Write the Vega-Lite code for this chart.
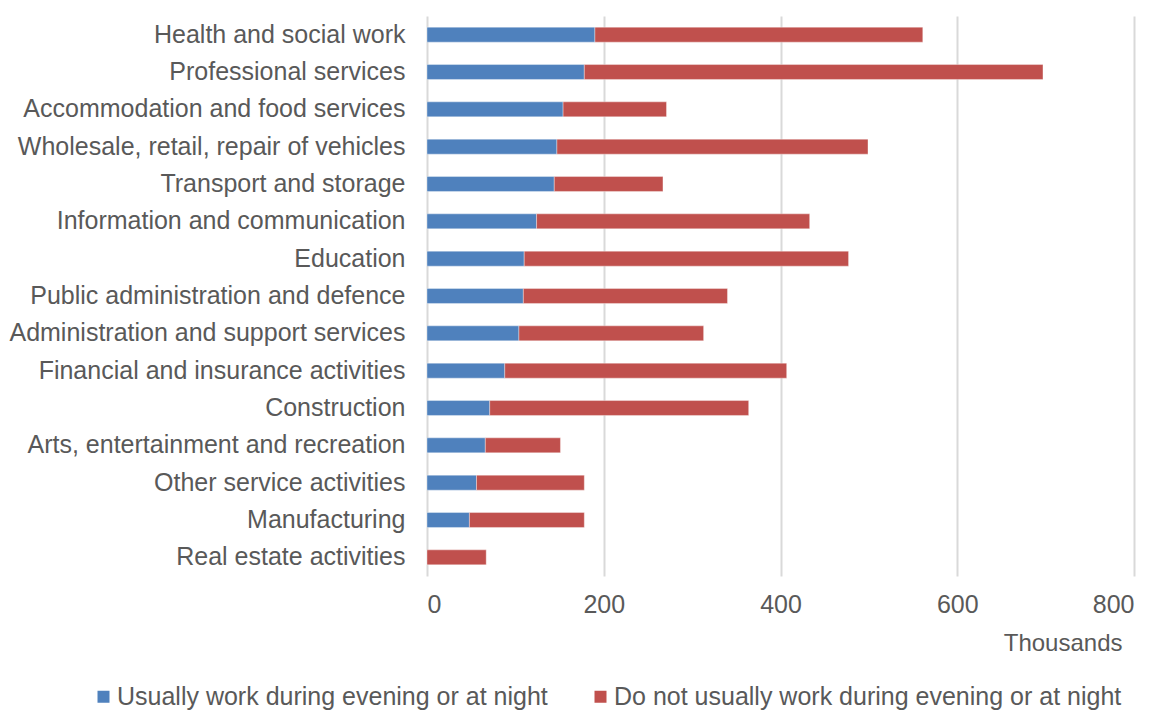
{
  "$schema": "https://vega.github.io/schema/vega-lite/v6.json",
  "width": 707,
  "height": 560,
  "autosize": {"type": "none"},
  "padding": {"left": 427, "top": 16, "right": 20, "bottom": 137},
  "background": "white",
  "data": {
    "values": [
      {"industry": "Health and social work", "series": "Usually work during evening or at night", "o": 1, "value": 190},
      {"industry": "Health and social work", "series": "Do not usually work during evening or at night", "o": 2, "value": 371},
      {"industry": "Professional services", "series": "Usually work during evening or at night", "o": 1, "value": 178},
      {"industry": "Professional services", "series": "Do not usually work during evening or at night", "o": 2, "value": 519},
      {"industry": "Accommodation and food services", "series": "Usually work during evening or at night", "o": 1, "value": 154},
      {"industry": "Accommodation and food services", "series": "Do not usually work during evening or at night", "o": 2, "value": 117},
      {"industry": "Wholesale, retail, repair of vehicles", "series": "Usually work during evening or at night", "o": 1, "value": 147},
      {"industry": "Wholesale, retail, repair of vehicles", "series": "Do not usually work during evening or at night", "o": 2, "value": 352},
      {"industry": "Transport and storage", "series": "Usually work during evening or at night", "o": 1, "value": 144},
      {"industry": "Transport and storage", "series": "Do not usually work during evening or at night", "o": 2, "value": 123},
      {"industry": "Information and communication", "series": "Usually work during evening or at night", "o": 1, "value": 124},
      {"industry": "Information and communication", "series": "Do not usually work during evening or at night", "o": 2, "value": 309},
      {"industry": "Education", "series": "Usually work during evening or at night", "o": 1, "value": 110},
      {"industry": "Education", "series": "Do not usually work during evening or at night", "o": 2, "value": 367},
      {"industry": "Public administration and defence", "series": "Usually work during evening or at night", "o": 1, "value": 109},
      {"industry": "Public administration and defence", "series": "Do not usually work during evening or at night", "o": 2, "value": 231},
      {"industry": "Administration and support services", "series": "Usually work during evening or at night", "o": 1, "value": 104},
      {"industry": "Administration and support services", "series": "Do not usually work during evening or at night", "o": 2, "value": 209},
      {"industry": "Financial and insurance activities", "series": "Usually work during evening or at night", "o": 1, "value": 88},
      {"industry": "Financial and insurance activities", "series": "Do not usually work during evening or at night", "o": 2, "value": 319},
      {"industry": "Construction", "series": "Usually work during evening or at night", "o": 1, "value": 71},
      {"industry": "Construction", "series": "Do not usually work during evening or at night", "o": 2, "value": 293},
      {"industry": "Arts, entertainment and recreation", "series": "Usually work during evening or at night", "o": 1, "value": 66},
      {"industry": "Arts, entertainment and recreation", "series": "Do not usually work during evening or at night", "o": 2, "value": 85},
      {"industry": "Other service activities", "series": "Usually work during evening or at night", "o": 1, "value": 56},
      {"industry": "Other service activities", "series": "Do not usually work during evening or at night", "o": 2, "value": 122},
      {"industry": "Manufacturing", "series": "Usually work during evening or at night", "o": 1, "value": 48},
      {"industry": "Manufacturing", "series": "Do not usually work during evening or at night", "o": 2, "value": 130},
      {"industry": "Real estate activities", "series": "Usually work during evening or at night", "o": 1, "value": 0},
      {"industry": "Real estate activities", "series": "Do not usually work during evening or at night", "o": 2, "value": 67}
    ]
  },
  "config": {
    "font": "Liberation Sans",
    "view": {"stroke": null},
    "axis": {"labelColor": "#595959", "titleColor": "#595959", "labelFont": "Liberation Sans", "titleFont": "Liberation Sans"},
    "legend": {"labelColor": "#595959", "labelFont": "Liberation Sans"}
  },
  "mark": {"type": "bar", "stroke": "white", "strokeWidth": 0.6, "strokeOpacity": 0.6},
  "encoding": {
    "y": {
      "field": "industry",
      "type": "nominal",
      "sort": null,
      "scale": {"paddingInner": 0.6, "paddingOuter": 0.3},
      "axis": {"title": null, "domain": false, "ticks": false, "grid": false, "labelFontSize": 25, "labelPadding": 22, "labelLimit": 427}
    },
    "x": {
      "field": "value",
      "type": "quantitative",
      "stack": "zero",
      "scale": {"domain": [0, 800], "nice": false},
      "axis": {
        "values": [0, 200, 400, 600, 800],
        "domain": false,
        "ticks": false,
        "grid": true,
        "gridColor": "#d9d9d9",
        "gridWidth": 2,
        "labelFontSize": 25,
        "labelPadding": 16,
        "title": "Thousands",
        "titleFontSize": 24,
        "titleFontWeight": "normal",
        "titleAlign": "right",
        "titleAnchor": null,
        "titleX": 695,
        "titleY": 67,
        "titleBaseline": "middle"
      }
    },
    "color": {
      "field": "series",
      "type": "nominal",
      "sort": ["Usually work during evening or at night", "Do not usually work during evening or at night"],
      "scale": {"domain": ["Usually work during evening or at night", "Do not usually work during evening or at night"], "range": ["#4F81BD", "#C0504D"]},
      "legend": {
        "title": null,
        "orient": "none",
        "direction": "horizontal",
        "legendX": -336,
        "legendY": 668,
        "symbolType": "square",
        "symbolSize": 144,
        "symbolStrokeWidth": 0,
        "symbolOffset": 0,
        "labelFontSize": 25,
        "labelOffset": 1,
        "labelLimit": 700,
        "columnPadding": 40
      }
    },
    "order": {"field": "o", "type": "quantitative"}
  }
}
